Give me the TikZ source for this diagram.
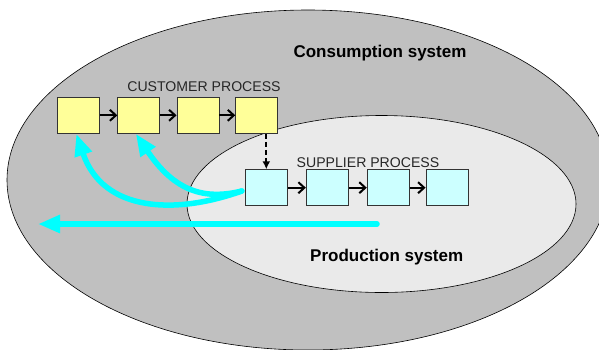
\documentclass[tikz,border=0pt]{standalone}
\usepackage{fontspec}
\setmainfont{Liberation Sans}
\usetikzlibrary{arrows.meta}

\definecolor{outergray}{HTML}{C0C0C0}
\definecolor{innergray}{HTML}{EAEAEA}
\definecolor{custyellow}{HTML}{FFFF99}
\definecolor{suppcyan}{HTML}{CCFFFF}
\definecolor{flowcyan}{HTML}{00FFFF}

\tikzset{
  system/.style={draw=black, line width=0.6pt},
  procbox/.style={draw=black!80, line width=0.9pt, minimum width=42pt,
    minimum height=36pt, inner sep=0pt},
  custbox/.style={procbox, fill=custyellow},
  suppbox/.style={procbox, fill=suppcyan},
  steparrow/.style={line width=2pt, -{Straight Barb[length=6pt,width=11pt]}},
  handoff/.style={line width=2pt, dash pattern=on 5pt off 3pt,
    -{Latex[length=8pt,width=8pt]}},
  flow/.style={draw=flowcyan, line width=5.5pt, line cap=round,
    -{Triangle[length=22pt,width=17pt]}},
  proclabel/.style={anchor=base, inner sep=0pt,
    font=\fontsize{14.1}{16}\selectfont, text=black!85},
  syslabel/.style={anchor=base, inner sep=0pt,
    font=\fontsize{17}{20}\selectfont\bfseries},
}

\begin{document}
\begin{tikzpicture}[x=1pt, y=-1pt]
  \useasboundingbox (0,0) rectangle (599,349);
  \clip (0,0) rectangle (599,349);

  % the two nested systems
  \path[system, fill=outergray] (308,180) ellipse [x radius=301, y radius=170];
  \path[system, fill=innergray] (381.5,204) ellipse [x radius=194.5, y radius=88.5];

  % customer process chain
  \node[custbox] (c1) at (78.3,115.3) {};
  \node[custbox] (c2) at (138.8,115.3) {};
  \node[custbox] (c3) at (198,115.3) {};
  \node[custbox] (c4) at (256.7,115.3) {};

  % supplier process chain
  \node[suppbox] (s1) at (266.3,187.7) {};
  \node[suppbox] (s2) at (327.3,187.7) {};
  \node[suppbox] (s3) at (388.2,187.7) {};
  \node[suppbox] (s4) at (447,187.7) {};

  % value flowing back to the customer side
  \coordinate (flowstart) at (377,224);
  \coordinate (flowend) at (38,224);
  \draw[flow] (flowstart) -- (flowend);
  \draw[flow] ([shift={(-3,3.3)}]s1.west)
      .. controls (175,215) and (103,212) .. ([xshift=-2pt]c1.south);
  \draw[flow] ([shift={(-3,3.3)}]s1.west)
      .. controls (205,200) and (175,192) .. ([xshift=-3pt]c2.south);

  % redraw the first supplier box over the flow ends
  \node[suppbox] at (s1) {};

  % steps within each chain
  \draw[steparrow] (c1.east) -- (c2.west);
  \draw[steparrow] (c2.east) -- (c3.west);
  \draw[steparrow] (c3.east) -- (c4.west);
  \draw[steparrow] (s1.east) -- (s2.west);
  \draw[steparrow] (s2.east) -- (s3.west);
  \draw[steparrow] (s3.east) -- (s4.west);

  % customer process triggers the supplier process
  \draw[handoff] (c4.south -| s1.north) -- (s1.north);

  % labels
  \node[proclabel] (custlabel) at (204,91) {CUSTOMER PROCESS};
  \node[proclabel] (supplabel) at (368,167.3) {SUPPLIER PROCESS};
  \node[syslabel] (conslabel) at (380,57) {Consumption system};
  \node[syslabel] (prodlabel) at (386.7,261.5) {Production system};
\end{tikzpicture}
\end{document}
